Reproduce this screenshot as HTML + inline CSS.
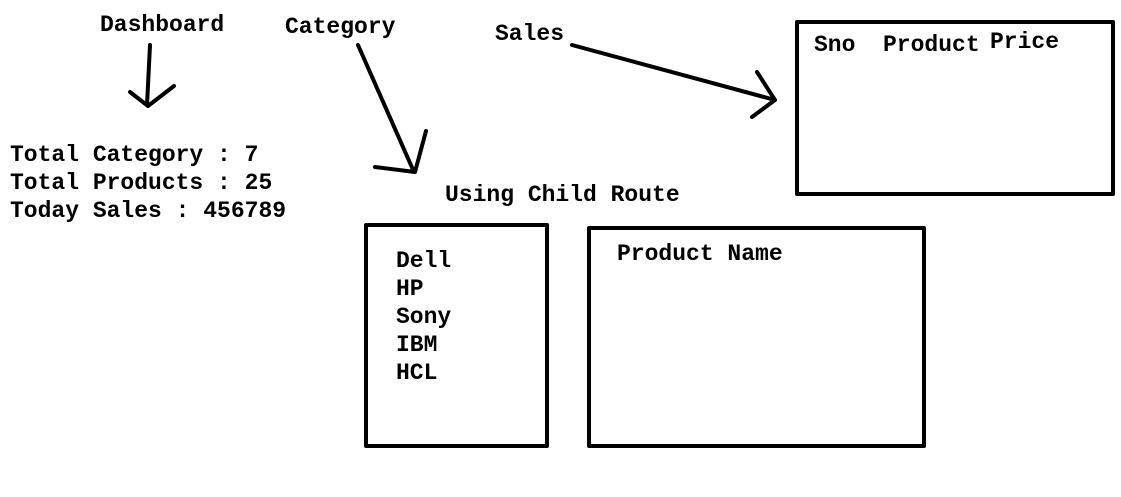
<!DOCTYPE html>
<html><head><meta charset="utf-8"><style>
html,body{margin:0;padding:0;background:#fff;}
svg{display:block;}
text{font-family:"Liberation Mono",monospace;font-weight:bold;font-size:23px;fill:#000;}
</style></head><body>
<svg width="1121" height="497" viewBox="0 0 1121 497" xmlns="http://www.w3.org/2000/svg">
<g fill="none" stroke="#000" stroke-width="4" stroke-linecap="round" stroke-linejoin="round">
<rect x="797" y="22" width="316" height="172"/>
<rect x="366" y="225" width="181" height="221"/>
<rect x="589" y="228" width="335" height="218"/>
<path d="M150 45 L147 105 M130 92 L148 106 L174 86"/>
<path d="M358 45 L414 172 M375 167 L415 172 L426 131"/>
<path d="M572 45 L775 100 M757 72 L775 100 L752 117"/>
</g>
<text x="100" y="31">Dashboard</text>
<text x="285" y="33">Category</text>
<text x="495" y="40">Sales</text>
<text x="814" y="51">Sno</text>
<text x="883" y="51">Product</text>
<text x="990" y="48">Price</text>
<text x="445" y="201">Using Child Route</text>
<text x="10" y="161">Total Category : 7</text>
<text x="10" y="189">Total Products : 25</text>
<text x="10" y="217">Today Sales : 456789</text>
<text x="396" y="267">Dell</text>
<text x="396" y="295">HP</text>
<text x="396" y="323">Sony</text>
<text x="396" y="351">IBM</text>
<text x="396" y="379">HCL</text>
<text x="617" y="260">Product Name</text>
</svg>
</body></html>
